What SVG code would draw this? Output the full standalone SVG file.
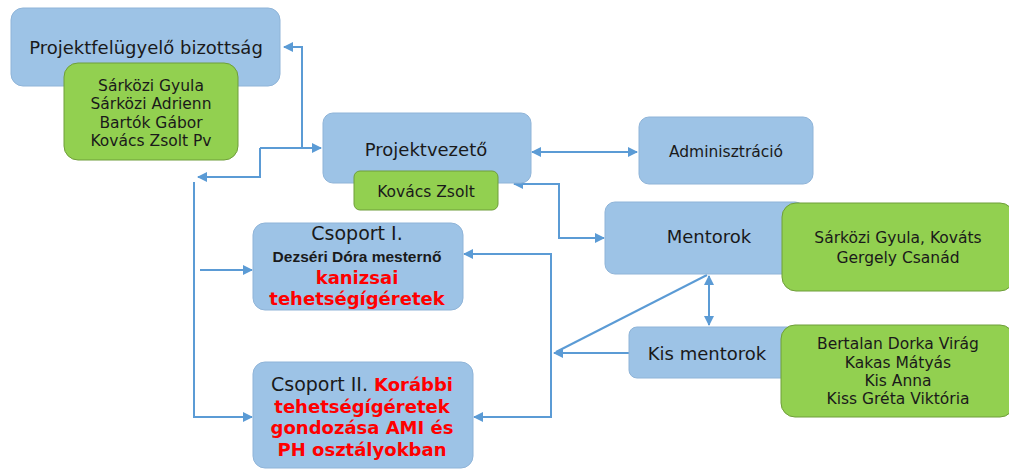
<svg xmlns="http://www.w3.org/2000/svg" width="1009" height="470" viewBox="0 0 1009 470">
<style>
.blue{fill:#9dc3e6;stroke:#8fb4d8;stroke-width:1}
.green{fill:#92d050;stroke:#6f9e3a;stroke-width:1}
text{font-family:"DejaVu Sans",Verdana,sans-serif;fill:#1a1a1a;text-anchor:middle}
.t18{font-size:18px}
.t15{font-size:15.5px}
.g{font-size:15.5px}
.red{fill:#ff0000;font-weight:bold;font-size:18px}
.con{fill:none;stroke:#5b9bd5;stroke-width:2}
</style>
<defs>
<marker id="ah" viewBox="0 0 10 10" refX="9" refY="5" markerWidth="5" markerHeight="5" orient="auto-start-reverse" markerUnits="strokeWidth">
<path d="M0,0 L10,5 L0,10 z" fill="#5b9bd5"/>
</marker>
</defs>
<rect width="1009" height="470" fill="#ffffff"/>
<g id="connectors">
<polyline class="con" points="302,148 302,47 284,47" marker-end="url(#ah)"/>
<polyline class="con" points="260,148 321,148" marker-end="url(#ah)"/>
<polyline class="con" points="260,148 260,177 198,177" marker-end="url(#ah)"/>
<polyline class="con" points="194,182 194,417 252,417" marker-end="url(#ah)"/>
<polyline class="con" points="200,270 252,270" marker-end="url(#ah)"/>
<line class="con" x1="532" y1="152" x2="637" y2="152" marker-start="url(#ah)" marker-end="url(#ah)"/>
<polyline class="con" points="604,238 559,238 559,184 514,184" marker-start="url(#ah)" marker-end="url(#ah)"/>
<line class="con" x1="709" y1="276" x2="709" y2="325" marker-start="url(#ah)" marker-end="url(#ah)"/>
<polyline class="con" points="629,353 554,353" marker-end="url(#ah)"/>
<line class="con" x1="707" y1="275" x2="556" y2="352"/>
<polyline class="con" points="551,353 551,254 464,254" marker-end="url(#ah)"/>
<polyline class="con" points="551,353 551,417 474,417" marker-end="url(#ah)"/>
</g>
<g id="bizottsag">
<rect class="blue" x="11" y="8" width="269" height="78" rx="12"/>
<text class="t18" x="146" y="54">Projektfelügyelő bizottság</text>
</g>
<g id="bizottsag-tagok">
<rect class="green" x="64" y="63" width="174" height="97" rx="14"/>
<text class="g" x="151" y="91">Sárközi Gyula</text>
<text class="g" x="151" y="109">Sárközi Adrienn</text>
<text class="g" x="151" y="128">Bartók Gábor</text>
<text class="g" x="151" y="146">Kovács Zsolt Pv</text>
</g>
<g id="projektvezeto">
<rect class="blue" x="323" y="113" width="208" height="70" rx="10"/>
<text class="t18" x="426" y="156">Projektvezető</text>
</g>
<g id="projektvezeto-nev">
<rect class="green" x="354" y="171" width="144" height="39" rx="6"/>
<text class="g" x="426" y="197">Kovács Zsolt</text>
</g>
<g id="adminisztracio">
<rect class="blue" x="639" y="117" width="174" height="67" rx="10"/>
<text class="t15" x="726" y="157">Adminisztráció</text>
</g>
<g id="mentorok">
<rect class="blue" x="605" y="202" width="200" height="72" rx="10"/>
<text class="t18" x="709" y="243">Mentorok</text>
</g>
<g id="mentorok-nevek">
<rect class="green" x="782" y="203" width="232" height="88" rx="14"/>
<text class="g" x="898" y="243">Sárközi Gyula, Kováts</text>
<text class="g" x="898" y="263">Gergely Csanád</text>
</g>
<g id="kis-mentorok">
<rect class="blue" x="629" y="327" width="170" height="51" rx="8"/>
<text class="t18" x="707" y="360">Kis mentorok</text>
</g>
<g id="kis-mentorok-nevek">
<rect class="green" x="781" y="325" width="233" height="92" rx="14"/>
<text class="g" x="898" y="349">Bertalan Dorka  Virág</text>
<text class="g" x="898" y="368">Kakas Mátyás</text>
<text class="g" x="898" y="386">Kis Anna</text>
<text class="g" x="898" y="404">Kiss Gréta Viktória</text>
</g>
<g id="csoport1">
<rect class="blue" x="253" y="223" width="210" height="87" rx="12"/>
<text x="357" y="240" style="font-size:19px">Csoport I.</text>
<text x="357" y="262" style="font-family:'Liberation Sans',Arial,sans-serif;font-weight:bold;font-size:15.5px">Dezséri Dóra mesternő</text>
<text class="red" x="357" y="284">kanizsai</text>
<text class="red" x="357" y="305">tehetségígéretek</text>
</g>
<g id="csoport2">
<rect class="blue" x="253" y="362" width="220" height="106" rx="12"/>
<text x="362" y="391" style="font-size:19px"><tspan>Csoport II. </tspan><tspan class="red">Korábbi</tspan></text>
<text class="red" x="362" y="413">tehetségígéretek</text>
<text class="red" x="362" y="434">gondozása AMI és</text>
<text class="red" x="362" y="456">PH osztályokban</text>
</g>
</svg>
